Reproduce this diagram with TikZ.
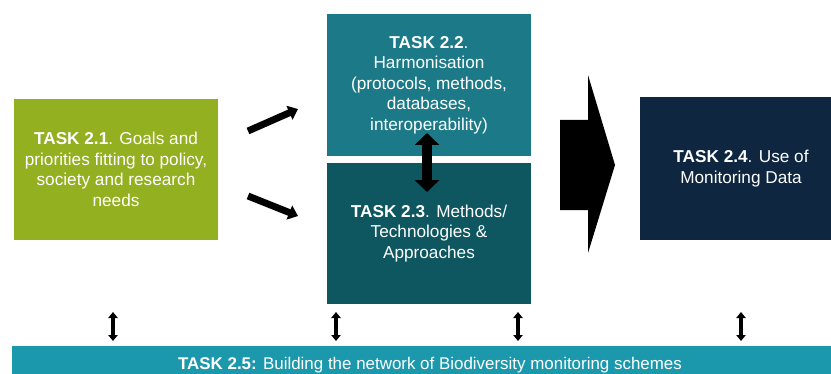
\documentclass[tikz,border=0pt]{standalone}
\usepackage{fontspec}
\setmainfont{Liberation Sans}
\usetikzlibrary{arrows.meta}
\definecolor{tgreen}{RGB}{146,176,32}
\definecolor{tteal}{RGB}{28,122,136}
\definecolor{tdark}{RGB}{14,86,96}
\definecolor{tnavy}{RGB}{14,38,64}
\definecolor{tbar}{RGB}{28,152,172}
\begin{document}
\begin{tikzpicture}[x=0.75pt,y=-0.75pt,
  box/.style={rectangle,inner sep=0pt,align=center,text=white,
    font=\fontsize{12.9}{15.4}\selectfont},
  fat/.style={line width=5.2pt,-{Triangle[length=7pt,width=11pt]}},
  dbl/.style={line width=7.5pt,{Triangle[length=9pt,width=18pt]}-{Triangle[length=9pt,width=18pt]}},
  small/.style={line width=3pt,{Triangle[length=4.5pt,width=7pt]}-{Triangle[length=4.5pt,width=7pt]}}]
\clip (0,0) rectangle (831,374);
\fill[white] (0,0) rectangle (831,374);
% boxes
\node[box,fill=tgreen,minimum width=153pt,minimum height=105.75pt] (t1) at (116,169.5)
  {\textbf{TASK 2.1}. Goals and\\priorities fitting to policy,\\society and research\\needs};
\node[box,fill=tteal,minimum width=153pt,minimum height=106.5pt] (t2) at (429,85)
  {\textbf{TASK 2.2}.\\Harmonisation\\(protocols, methods,\\databases,\\interoperability)};
\node[box,fill=tdark,minimum width=153pt,minimum height=105.75pt] (t3) at (429,233.5)
  {\textbf{TASK 2.3}. Methods/\\Technologies \&\\Approaches};
\node[box,fill=tnavy,minimum width=151.5pt,minimum height=107.25pt] (t4) at (741,168.5)
  {\textbf{TASK 2.4}. Use of\\Monitoring Data};
\node[box,fill=tbar,minimum width=627pt,minimum height=28.5pt,font=\fontsize{12.7}{15.4}\selectfont] (t5) at (430,365)
  {\textbf{TASK 2.5:} Building the network of Biodiversity monitoring schemes};
% big arrow
\fill[black] (560,120) -- (588,120) -- (588,75) -- (615,165) -- (588,253) -- (588,210) -- (560,210) -- cycle;
% diagonal arrows
\coordinate (a1s) at (248,131);
\coordinate (a1e) at (298,109);
\coordinate (a2s) at (248,196);
\coordinate (a2e) at (298,216);
\draw[fat] (a1s) -- (a1e);
\draw[fat] (a2s) -- (a2e);
% double arrow between 2.2 and 2.3
\coordinate (d1) at (427,133);
\coordinate (d2) at (427,192);
\draw[dbl] (d1) -- (d2);
% small arrows to task 2.5
\foreach \x/\n in {113/a,336/b,518/c,741/d}{
  \coordinate (s\n1) at (\x,312);
  \coordinate (s\n2) at (\x,341);
  \draw[small] (s\n1) -- (s\n2);
}
\end{tikzpicture}
\end{document}
